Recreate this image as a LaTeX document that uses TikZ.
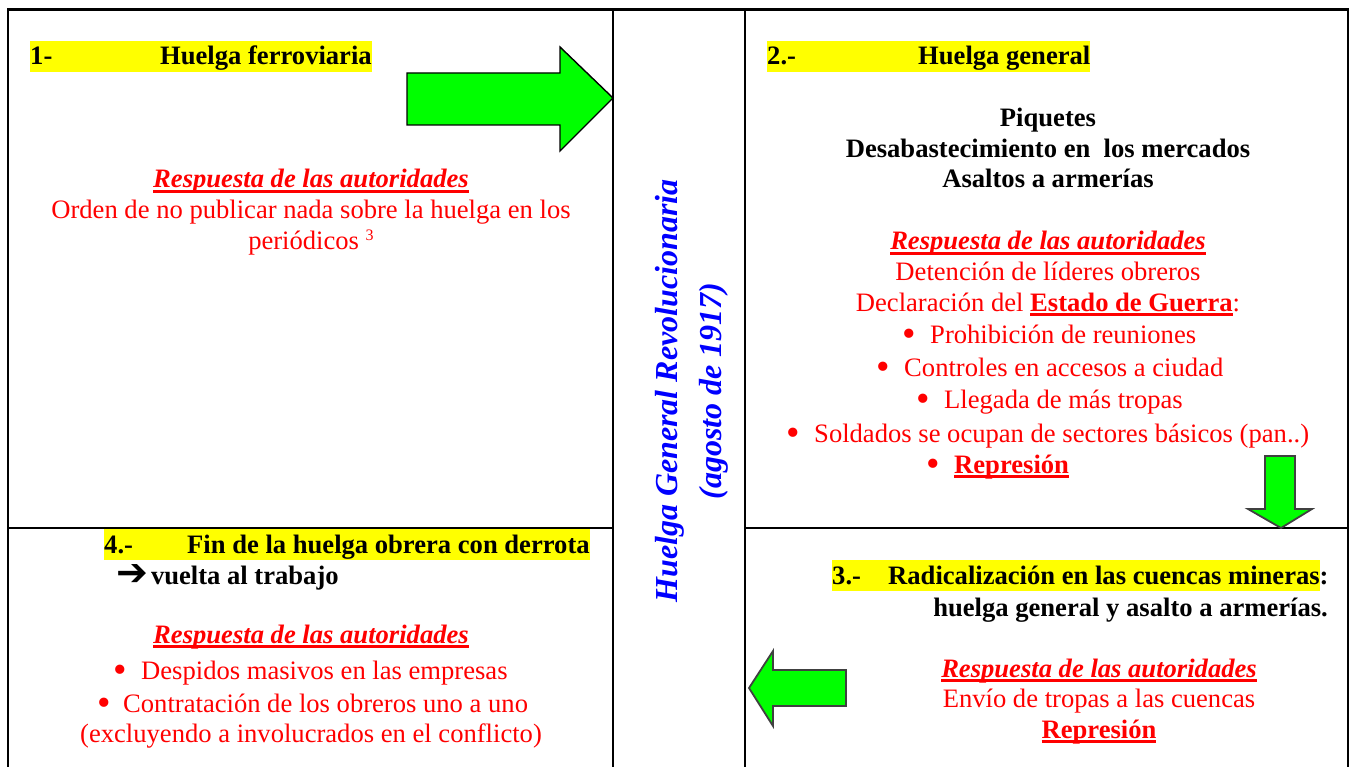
\documentclass[tikz,border=0pt]{standalone}
\usepackage{fontspec}
\setmainfont{Liberation Serif}
\newfontfamily\symfont{DejaVu Sans}
\definecolor{hlyellow}{RGB}{255,255,0}
\definecolor{brightgreen}{RGB}{0,255,0}
\definecolor{txtred}{RGB}{255,0,0}
\definecolor{txtblue}{RGB}{0,0,255}
\newcommand\myul[1]{\setbox0\hbox{#1}\rlap{\rule[-4.8pt]{\wd0}{2.4pt}}\box0}
\newcommand\hl[1]{{\fboxsep0pt\colorbox{hlyellow}{\rule[-7pt]{0pt}{31pt}#1}}}
\newcommand\bul[1][28pt]{\makebox[#1][l]{\raisebox{-3.6pt}{\scalebox{1.45}{\textbullet}}}}
\begin{document}
\begin{tikzpicture}[x=1pt,y=-1pt,
  every node/.style={inner sep=0pt},
  hd/.style={font=\fontsize{26.6}{31}\selectfont\bfseries, text=black, anchor=base west},
  blk/.style={font=\fontsize{26.6}{31}\selectfont\bfseries, text=black, anchor=base},
  rd/.style={font=\fontsize{26.6}{31}\selectfont, text=txtred, anchor=base},
  rdl/.style={rd, anchor=base west},
  resp/.style={font=\fontsize{26.6}{31}\selectfont\bfseries\itshape, text=txtred, anchor=base},
  frame/.style={line width=2.3pt, black},
  bigarrow/.style={fill=brightgreen, draw=black, line width=1.4pt, line join=miter},
  bigarrow2/.style={fill=brightgreen, draw=black!75, line width=1.8pt, line join=miter}
]
\useasboundingbox (0,0) rectangle (1351,767);
\fill[white] (0,0) rectangle (1351,767);

% frame
\coordinate (tl) at (8,9.5);
\coordinate (tr) at (1348,9.5);
\coordinate (bl) at (8,767);
\coordinate (br) at (1348,767);
\draw[frame] (bl) -- (tl) -- (tr) -- (br);
\draw[frame] (613,9.5) -- (613,767);
\draw[frame] (745,9.5) -- (745,767);
\draw[frame] (8,528) -- (613,528);
\draw[frame] (745,528) -- (1348,528);

% arrows
\draw[bigarrow] (407,73) -- (560,73) -- (560,47) -- (613,98) -- (560,151) -- (560,125) -- (407,125) -- cycle;
\draw[bigarrow2] (1265,456) -- (1295,456) -- (1295,509) -- (1312,509) -- (1281,528) -- (1248,509) -- (1265,509) -- cycle;
\draw[bigarrow2] (749,688) -- (773,651) -- (773,670) -- (846,670) -- (846,706) -- (773,706) -- (773,726) -- cycle;

% panel 1
\node[hd] (h1) at (30,65) {\hl{\makebox[130pt][l]{1-}Huelga ferroviaria}};
\node[resp] (r1) at (311,188) {\myul{Respuesta de las autoridades}};
\node[rd] (p1a) at (311,219) {Orden de no publicar nada sobre la huelga en los};
\node[rd] (p1b) at (311,250) {periódicos {\fontsize{16}{16}\selectfont\raisebox{9pt}{3}}};

% panel 2
\node[hd] (h2) at (767,65) {\hl{\makebox[151pt][l]{2.-}Huelga general}};
\node[blk] (p2a) at (1048,127) {Piquetes};
\node[blk] (p2b) at (1048,158) {Desabastecimiento en\ \ los mercados};
\node[blk] (p2c) at (1048,188) {Asaltos a armerías};
\node[resp] (r2) at (1048,250) {\myul{Respuesta de las autoridades}};
\node[rd] (p2d) at (1048,280) {Detención de líderes obreros};
\node[rd] (p2e) at (1048,311) {Declaración del \myul{\bfseries Estado de Guerra}:};
\node[rdl] (b21) at (902,343) {\bul Prohibición de reuniones};
\node[rdl] (b22) at (876,376) {\bul Controles en accesos a ciudad};
\node[rdl] (b23) at (916,408) {\bul Llegada de más tropas};
\node[rdl] (b24) at (786,442) {\bul Soldados se ocupan de sectores básicos (pan..)};
\node[rdl] (b25) at (926,473) {\bul\myul{\bfseries Represión}};

% panel 3
\node[hd] (h3) at (832,584) {\hl{\makebox[56pt][l]{3.-}Radicalización en las cuencas mineras}:};
\node[blk, anchor=base east] (p3a) at (1328,616) {huelga general y asalto a armerías.};
\node[resp] (r3) at (1099,677) {\myul{Respuesta de las autoridades}};
\node[rd] (p3b) at (1099,707) {Envío de tropas a las cuencas};
\node[rd, font=\fontsize{26.6}{31}\selectfont\bfseries] (p3c) at (1099,738) {\myul{Represión}};

% panel 4
\node[hd] (h4) at (104,553) {\hl{\makebox[83pt][l]{4.-}Fin de la huelga obrera con derrota}};
\node[hd] (p4a) at (116,584) {{\symfont\bfseries\fontsize{38}{38}\selectfont\raisebox{-1.5pt}{➔}}\hspace{3pt}vuelta al trabajo};
\node[resp] (r4) at (311,643) {\myul{Respuesta de las autoridades}};
\node[rdl] (b41) at (113,679) {\bul Despidos masivos en las empresas};
\node[rdl] (b42) at (97,712) {\bul[26pt]Contratación de los obreros uno a uno};
\node[rd] (p4b) at (311,742) {(excluyendo a involucrados en el conflicto)};

% middle
\node[rotate=90, align=center, text=txtblue, font=\fontsize{32}{44}\selectfont\bfseries\itshape] (mid) at (692,391) {Huelga General Revolucionaria\\(agosto de 1917)};
\end{tikzpicture}
\end{document}
